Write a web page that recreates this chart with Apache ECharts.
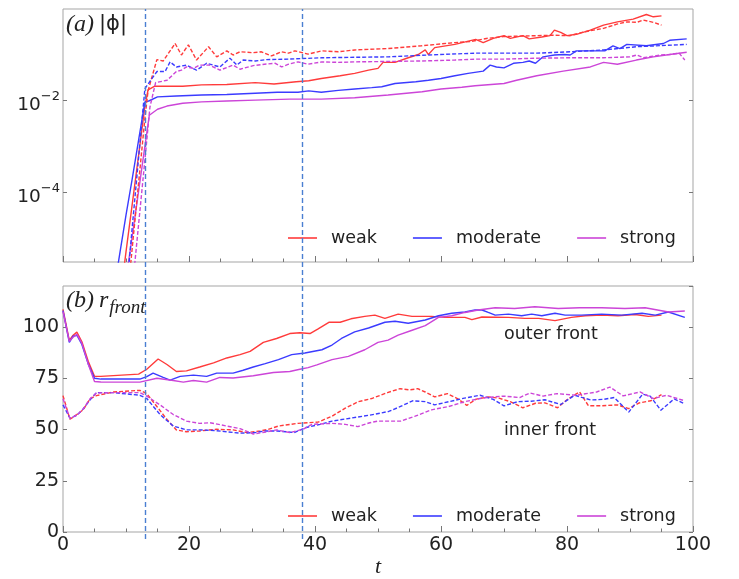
<!DOCTYPE html>
<html>
<head>
<meta charset="utf-8">
<title>|phi| and r_front</title>
<style>
  html, body { margin: 0; padding: 0; background: #fff; }
  #main { width: 739px; height: 579px; }
</style>
</head>
<body>
<div id="main"></div>
<script src="https://cdn.jsdelivr.net/npm/echarts@6/dist/echarts.min.js"></script>
<script>
// times of the two vertical dashed markers
var switchTimes = [13, 38];

// panel (a): log10 |phi| against t, [t, log10 value]
var phiWeak = [[9,-6.4],[10,-5.3],[11,-4.25],[12,-3.2],[13,-2.13],[13.5,-1.78],[14.5,-1.70],[16.5,-1.70],[19,-1.70],[22,-1.67],[26,-1.66],[30.5,-1.62],[33.5,-1.65],[37,-1.60],[39,-1.58],[41,-1.53],[44,-1.47],[46.3,-1.42],[48.5,-1.35],[50,-1.31],[50.8,-1.18],[52.7,-1.18],[54.8,-1.08],[56.4,-1.01],[57.5,-0.91],[58,-1.01],[59,-0.86],[62.2,-0.79],[65.5,-0.68],[66.7,-0.75],[68.3,-0.66],[70,-0.60],[71,-0.66],[73,-0.60],[74,-0.67],[76,-0.63],[77.3,-0.60],[78,-0.48],[79,-0.53],[80,-0.60],[81.5,-0.57],[83.7,-0.48],[85.8,-0.37],[88,-0.30],[90.5,-0.24],[92.6,-0.14],[93.7,-0.19],[95,-0.17]];
var phiModerate = [[8,-6.2],[9,-5.35],[10,-4.5],[11,-3.7],[12,-2.87],[13,-2.04],[13.6,-2.02],[15,-1.93],[18,-1.91],[22,-1.89],[26,-1.88],[30.5,-1.85],[34,-1.83],[37.3,-1.83],[39,-1.80],[41,-1.83],[43.7,-1.79],[46.3,-1.76],[49,-1.73],[50.6,-1.71],[52.7,-1.64],[56,-1.60],[58,-1.57],[60,-1.53],[62.2,-1.47],[64.3,-1.42],[66.7,-1.37],[67.8,-1.24],[68.8,-1.28],[70,-1.30],[71.5,-1.20],[73,-1.18],[74,-1.15],[75,-1.20],[76.2,-1.06],[78,-1.02],[79.5,-1.01],[80.5,-1.02],[81.5,-0.93],[86,-0.93],[87.3,-0.82],[88.4,-0.88],[89.5,-0.79],[92.6,-0.82],[95.3,-0.77],[96.3,-0.70],[99,-0.67]];
var phiStrong = [[10,-5.9],[11,-4.95],[12,-3.98],[13,-3.0],[13.7,-2.33],[15,-2.2],[16.5,-2.13],[19,-2.07],[22,-2.04],[26,-2.02],[30.5,-2.0],[36,-1.98],[41,-1.98],[46.3,-1.95],[51.6,-1.89],[57,-1.82],[60,-1.76],[63.3,-1.72],[65.4,-1.69],[70,-1.64],[72,-1.57],[75.2,-1.47],[79.4,-1.37],[83.7,-1.28],[85.8,-1.18],[88,-1.22],[91,-1.13],[93.7,-1.06],[96.3,-1.01],[99,-0.96]];
var phiWeakDash = [[10,-6.6],[11,-5.2],[12,-3.8],[13,-2.4],[13.5,-1.8],[14.9,-1.12],[15.9,-1.15],[17.8,-0.77],[18.8,-1.02],[19.9,-0.80],[21.2,-1.13],[23.1,-0.84],[24.4,-1.06],[26,-0.93],[27,-1.02],[28.1,-0.95],[30.2,-0.97],[31.5,-0.95],[33.1,-1.04],[34.7,-0.95],[35.8,-0.98],[36.8,-0.93],[38.9,-1.0],[41.1,-0.93],[43.7,-0.95],[46.3,-0.91],[51.6,-0.88],[56.9,-0.82],[62.2,-0.75],[64.6,-0.73],[67.2,-0.66],[69.9,-0.62],[75.2,-0.60],[77.8,-0.59],[80.5,-0.60],[82.6,-0.52],[85.8,-0.44],[87.9,-0.35],[89.5,-0.30],[91.1,-0.31],[92.1,-0.26],[93.7,-0.31],[95,-0.37]];
var phiModerateDash = [[10,-6.3],[11,-4.75],[12,-3.25],[13,-1.75],[14.9,-1.38],[16.2,-1.38],[17,-1.17],[18,-1.28],[19.6,-1.24],[21.2,-1.35],[22.8,-1.20],[24.9,-1.28],[26.5,-1.09],[27.6,-1.24],[28.6,-1.13],[30.5,-1.15],[32.3,-1.12],[35.8,-1.11],[41.1,-1.08],[46.3,-1.07],[51.6,-1.06],[58,-1.02],[65.4,-0.98],[69.8,-0.98],[75.2,-0.98],[80.5,-0.95],[85.8,-0.91],[91.1,-0.84],[99,-0.79]];
var phiStrongDash = [[11,-6.1],[12,-4.7],[13,-3.3],[13.8,-2.15],[14.7,-1.62],[16.5,-1.57],[18,-1.38],[18.8,-1.35],[19.6,-1.28],[20.7,-1.31],[21.7,-1.24],[23.3,-1.24],[24.9,-1.35],[27,-1.24],[28.1,-1.33],[30.2,-1.25],[32,-1.22],[33.7,-1.20],[34.7,-1.28],[35.8,-1.22],[37.3,-1.17],[38.9,-1.22],[41.1,-1.17],[43.7,-1.18],[46.3,-1.17],[56.9,-1.15],[62.2,-1.13],[65.4,-1.11],[69.9,-1.11],[75.2,-1.09],[80.5,-1.08],[85.8,-1.08],[90,-1.06],[91.1,-1.02],[92.1,-1.08],[94.8,-1.02],[96.3,-1.01],[97.8,-0.98],[98.7,-1.13]];
var phiTicks = [-4, -2];

// panel (b): front radius against t, [t, r]
var outerWeak = [[0,108.6],[1,93.5],[1.6,96],[2.2,97.5],[3,92.8],[4,83.3],[5,76],[6,75.9],[12,77],[13.3,79.4],[15.1,84.4],[16.5,81.7],[18,78.3],[19.6,78.6],[21.7,80.5],[23.9,82.5],[26,84.9],[28.1,86.5],[29.7,88.1],[31.8,92.5],[33.9,94.4],[36,96.8],[37.6,97.2],[39.2,96.8],[40.5,99.1],[42.2,102.3],[44,102.3],[45.7,104],[47.9,105.2],[49.5,105.8],[51.1,104.2],[53.2,106.3],[55.4,105.2],[58.5,105.2],[60.6,104.7],[63.8,104.7],[64.9,103.6],[66.5,104.9],[70.7,104.7],[73.3,104.2],[75.5,104.2],[78.1,103.1],[80.7,104.7],[82.9,105.5],[85.5,105.8],[88.1,105.5],[90.8,106.1],[92.9,105.2],[95,105.8]];
var outerModerate = [[0,108],[1,92.5],[1.6,95.5],[2.2,96],[3,91.5],[4,82],[5,75],[6,74.6],[12.2,74.6],[13.3,75.8],[14.3,77.5],[15.9,75.4],[17,74.1],[18.6,75.9],[20.7,76.5],[22.8,75.9],[24.4,77.5],[27,77.5],[28.6,78.9],[30.2,80.5],[32.1,82.1],[34.2,84.1],[36.3,86.5],[38.4,87.3],[41.1,88.9],[42.7,91.2],[44.2,94.4],[46.3,97.6],[48.5,99.5],[51.1,102.3],[52.7,102.8],[54.8,101.8],[57.5,103.4],[59.6,105.5],[61.7,106.7],[63.8,107.3],[65.4,108.3],[66.5,108.3],[67.5,107.1],[68.6,105.8],[70.7,106.3],[72.8,105.5],[74.4,106.3],[76,105.5],[78.1,106.7],[79.7,105.8],[82.3,105.8],[85.5,106.3],[88.7,105.8],[91.9,106.7],[94,105.8],[96.1,107.3],[98.7,104.7]];
var outerStrong = [[0,107.5],[1,93],[1.6,95],[2.2,96.5],[3,92],[4,82],[5,73.4],[6,73.2],[12.2,73.1],[14.9,75],[17.5,73.9],[19.1,73.1],[20.7,73.9],[22.8,73.1],[24.9,75.4],[27,75.1],[30.2,76.2],[33.4,77.8],[36,78.3],[37.6,79.4],[38.9,80.2],[40.3,81.5],[42.7,84.1],[45.3,85.7],[47.9,88.9],[50,92.5],[51.6,93.6],[53.2,96],[55.3,98.3],[57.5,100.7],[59.6,104.7],[61.7,105.5],[63.8,107.1],[65.9,108.3],[68.6,109.4],[71.7,109],[74.9,109.9],[78.6,109],[82,109.4],[85.5,109.4],[89.2,109],[92.4,109.4],[96.1,107.3],[98.7,107.8]];
var innerWeak = [[0,66.5],[1.1,55],[2.2,57.3],[3.2,59.6],[4.3,65],[5.3,66.5],[8,68.3],[12.2,69.1],[13.3,67.5],[14.9,61.2],[16.5,54.9],[18,49.8],[19.6,48.9],[21.7,49.3],[24.4,50.1],[27,49.8],[29.2,48.5],[31.3,49.3],[32.5,50],[34.2,51.7],[37.3,53.0],[40.5,53.6],[42.7,56.5],[44.8,60.4],[46.9,63.6],[49,65.1],[51.5,68],[53.5,69.9],[55,69.3],[56.3,69.9],[57.5,68.3],[59,65.9],[61,67.5],[62.6,65.1],[64.1,61.8],[65.6,64.8],[67.5,65.9],[69.2,65.3],[71,63.6],[73,60.6],[75,62.8],[76.5,63],[78.5,60.6],[80.2,65],[82,68.3],[83.4,61.6],[85.6,61.6],[88,62],[89.8,60.2],[91.4,62.9],[93.3,64],[95,67]];
var innerModerate = [[0,62],[1.1,55.5],[2.2,57],[3.2,60],[4.3,64.5],[5.3,68],[8,68],[12.2,66.7],[13.3,65.1],[15.4,57.3],[17.5,51.7],[19.6,49.8],[21.7,49.8],[24,49.5],[26,48.9],[28.1,48.2],[30.5,48.5],[32.1,49.3],[34,49.3],[36.7,48.5],[38.6,51],[40.8,52.5],[42.7,54.1],[45.8,55.6],[48.7,57],[51.7,58.8],[53.4,61],[55.5,64],[57.5,63.6],[59,62],[61.3,63.6],[63.7,65.3],[66.2,66.7],[68.3,64.7],[70,61.5],[72.2,63.6],[74.3,63.8],[76.5,64.5],[79,62.2],[81.2,66.7],[83.8,64.4],[85.8,64.7],[87.5,65.6],[89.8,58.5],[92,67.2],[93.2,66.3],[94.9,59.4],[97,64.9],[98.7,62.5]];
var innerStrong = [[0,65],[1.1,55.5],[2.2,57],[3.2,60],[4.3,65],[5.3,67.8],[8,68],[12.2,68],[13.3,66.3],[15.4,62],[17.5,57.3],[19.6,54.1],[21.7,53],[23.3,53.3],[26,51.7],[28.1,50.4],[30.2,47.8],[32.2,48.8],[33.9,49.8],[36,48.5],[38.1,50.1],[39.5,52.5],[42.7,53],[44.8,52.5],[46.8,51.4],[48.7,53.3],[50,54.1],[53.6,54.1],[55.9,56.5],[58.5,59.6],[61.2,61.2],[63.8,63.6],[66.2,65.1],[67.3,65.6],[69.9,66.3],[72.5,65.6],[74.1,67.8],[76.2,66.3],[78.4,67.5],[81.5,66.7],[84.7,68.3],[86.8,70.7],[88.9,66.4],[91.6,68.3],[93.7,65.1],[95.8,66.7],[98.7,64]];

var legendNames = ['weak', 'moderate', 'strong'];

var FONT = 'DejaVu Sans';
var SERIF = 'Liberation Serif';
var TXT = '#222';
var TICK = '#777';
var colors = { weak: '#ff3b3b', moderate: '#3b3bff', strong: '#cc45d8' };

var chart = echarts.init(document.getElementById('main'));

function xAxis(gridIndex, labels) {
    return {
        type: 'value', gridIndex: gridIndex, min: 0, max: 100, interval: 20,
        show: gridIndex < 2,
        axisLine: { show: false },
        axisTick: { show: true, inside: true, length: 6, lineStyle: { color: TICK } },
        minorTick: { show: true, splitNumber: 4, length: 3.5, lineStyle: { color: TICK } },
        splitLine: { show: false },
        minorSplitLine: { show: false },
        axisLabel: { show: labels, color: TXT, fontSize: 19, fontFamily: FONT, margin: 4 },
        name: labels ? 't' : '',
        nameLocation: 'middle',
        nameGap: 24,
        nameTextStyle: { color: TXT, fontSize: 22, fontFamily: SERIF, fontStyle: 'italic' }
    };
}

function yAxis(gridIndex, pos, extra) {
    var a = {
        type: 'value', gridIndex: gridIndex, position: pos,
        axisLine: { show: false },
        axisTick: { show: true, inside: true, length: 4, lineStyle: { color: TICK } },
        splitLine: { show: false },
        axisLabel: { show: pos === 'left', showMaxLabel: false, color: TXT, fontSize: 19, fontFamily: FONT, margin: 4 }
    };
    for (var k in extra) a[k] = extra[k];
    return a;
}

var supLabel = {
    show: true, margin: 3, customValues: phiTicks,
    formatter: function (v) { return '{b|10}{s|\u2212' + (-v) + '}'; },
    rich: {
        b: { fontSize: 18.5, fontFamily: FONT, color: TXT, lineHeight: 20, padding: [6, 0, 0, 0], verticalAlign: 'top' },
        s: { fontSize: 13, fontFamily: FONT, color: TXT, lineHeight: 14, verticalAlign: 'top' }
    }
};

function line(name, data, color, dashed, xi, yi) {
    return {
        type: 'line', name: name, data: data, xAxisIndex: xi, yAxisIndex: yi,
        showSymbol: false, symbol: 'none', silent: true, animation: false,
        lineStyle: { color: color, width: 1.4, type: dashed ? [4, 2] : 'solid' },
        itemStyle: { color: color }
    };
}

var series = [
    line('weak', phiWeak, colors.weak, false, 0, 0),
    line('moderate', phiModerate, colors.moderate, false, 0, 0),
    line('strong', phiStrong, colors.strong, false, 0, 0),
    line('weak (2)', phiWeakDash, colors.weak, true, 0, 0),
    line('moderate (2)', phiModerateDash, colors.moderate, true, 0, 0),
    line('strong (2)', phiStrongDash, colors.strong, true, 0, 0),
    line('weak', outerWeak, colors.weak, false, 1, 2),
    line('moderate', outerModerate, colors.moderate, false, 1, 2),
    line('strong', outerStrong, colors.strong, false, 1, 2),
    line('weak inner', innerWeak, colors.weak, true, 1, 2),
    line('moderate inner', innerModerate, colors.moderate, true, 1, 2),
    line('strong inner', innerStrong, colors.strong, true, 1, 2),
    {
        type: 'line', name: 'markers', xAxisIndex: 2, yAxisIndex: 4,
        data: [[0, 0]], showSymbol: false, silent: true, animation: false,
        lineStyle: { opacity: 0 },
        markLine: {
            silent: true, animation: false, symbol: ['none', 'none'],
            label: { show: false },
            lineStyle: { color: '#4a7fd2', width: 1.4, type: [5, 3] },
            data: switchTimes.map(function (t) { return { xAxis: t }; })
        }
    }
];

function legend(top) {
    return {
        data: legendNames, left: 288, top: top, padding: 0, icon: 'rect',
        itemWidth: 29, itemHeight: 1.6, itemGap: 36, selectedMode: false,
        textStyle: { color: TXT, fontSize: 17.5, fontFamily: FONT, padding: [0, 0, 0, 9] }
    };
}

chart.setOption({
    backgroundColor: '#fff',
    animation: false,
    grid: [
        { left: 63, top: 9, width: 630, height: 253, show: true, borderColor: '#a5a5a5', borderWidth: 1 },
        { left: 63, top: 286, width: 630, height: 253, show: true, borderColor: '#a5a5a5', borderWidth: 1 },
        { left: 63, top: 9, width: 630, height: 530, show: false }
    ],
    xAxis: [xAxis(0, false), xAxis(1, true), xAxis(2, false)],
    yAxis: [
        yAxis(0, 'left', { min: -5.52, max: -0.02, axisTick: { show: true, inside: true, length: 4, customValues: phiTicks, lineStyle: { color: TICK } }, axisLabel: supLabel }),
        yAxis(0, 'right', { min: -5.52, max: -0.02, axisTick: { show: true, inside: true, length: 4, customValues: phiTicks, lineStyle: { color: TICK } } }),
        yAxis(1, 'left', { min: 0, max: 120, interval: 25 }),
        yAxis(1, 'right', { min: 0, max: 120, interval: 25 }),
        { type: 'value', gridIndex: 2, min: 0, max: 1, show: false }
    ],
    legend: [legend(229), legend(507)],
    title: [
        {
            left: 66, top: 12, padding: 0,
            text: '{i|(a)} {n|\u007c\u03d5\u007c}',
            textStyle: { fontWeight: 'normal', rich: {
                i: { fontFamily: SERIF, fontStyle: 'italic', fontWeight: 'normal', fontSize: 24, color: TXT, lineHeight: 26 },
                n: { fontFamily: FONT, fontWeight: 'normal', fontSize: 21, color: TXT, lineHeight: 26 }
            } }
        },
        {
            left: 66, top: 289, padding: 0,
            text: '{i|(b)} {i|r}{s|front}',
            textStyle: { fontWeight: 'normal', rich: {
                i: { fontFamily: SERIF, fontStyle: 'italic', fontWeight: 'normal', fontSize: 24, color: TXT, lineHeight: 26, verticalAlign: 'top' },
                s: { fontFamily: SERIF, fontStyle: 'italic', fontWeight: 'normal', fontSize: 19, color: TXT, lineHeight: 20, padding: [9, 0, 0, 1], verticalAlign: 'top' }
            } }
        }
    ],
    graphic: [
        { type: 'text', left: 504, top: 325, silent: true,
          style: { text: 'outer front', font: '17.5px "DejaVu Sans"', fill: TXT } },
        { type: 'text', left: 504, top: 421, silent: true,
          style: { text: 'inner front', font: '17.5px "DejaVu Sans"', fill: TXT } }
    ],
    series: series
});
</script>
</body>
</html>
